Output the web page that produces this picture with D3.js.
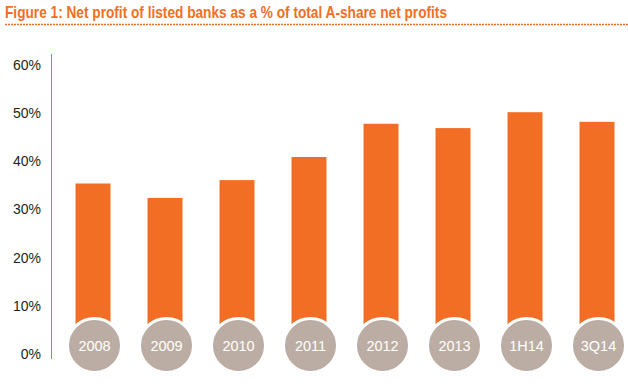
<!DOCTYPE html>
<html>
<head>
<meta charset="utf-8">
<script src="https://cdn.jsdelivr.net/npm/d3@7"></script>
<style>
  body { margin: 0; background: #fff; }
  svg { display: block; font-family: "Liberation Sans", Arial, sans-serif; }
</style>
</head>
<body>
<svg width="628" height="386"></svg>
<script>
const periods = ["2008","2009","2010","2011","2012","2013","1H14","3Q14"];
const shares = [35.4, 32.4, 36.1, 40.9, 47.8, 46.9, 50.2, 48.2];
const yTicks = [0, 10, 20, 30, 40, 50, 60];

const svg = d3.select("svg");
const orange = "#F26E24";
const grey = "#BBADA3";

// title + dotted rule
svg.append("text")
  .attr("x", 5).attr("y", 18)
  .attr("fill", orange)
  .attr("font-size", 16.5)
  .attr("font-weight", "bold")
  .attr("textLength", 442)
  .attr("lengthAdjust", "spacingAndGlyphs")
  .text("Figure 1: Net profit of listed banks as a % of total A-share net profits");

svg.append("line")
  .attr("x1", 5).attr("x2", 628)
  .attr("y1", 24.5).attr("y2", 24.5)
  .attr("stroke", orange)
  .attr("stroke-width", 1.5)
  .attr("stroke-dasharray", "2,1");

const y = d3.scaleLinear().domain([0, 60]).range([354, 65]);
const x = d3.scaleBand().domain(periods).range([57, 633]).paddingInner(0.514).paddingOuter(0.257);

// y axis
const yAxis = svg.append("g")
  .attr("transform", "translate(51,0)")
  .call(d3.axisLeft(y).tickValues(yTicks).tickSize(0).tickPadding(10).tickFormat(d => d + "%"));
yAxis.select(".domain").remove();
yAxis.selectAll("text")
  .attr("font-size", 14)
  .attr("fill", "#231F20")
  .attr("font-family", "Liberation Sans, Arial, sans-serif");

svg.append("line")
  .attr("x1", 51.5).attr("x2", 51.5)
  .attr("y1", 54).attr("y2", 359)
  .attr("stroke", orange)
  .attr("stroke-width", 1);

// bars
svg.selectAll("rect.bar")
  .data(periods)
  .enter()
  .append("rect")
  .attr("class", "bar")
  .attr("x", d => x(d))
  .attr("width", x.bandwidth())
  .attr("y", (d, i) => y(shares[i]))
  .attr("height", (d, i) => y(0) - y(shares[i]))
  .attr("fill", orange);

// category badges
const badges = svg.selectAll("g.badge")
  .data(periods)
  .enter()
  .append("g")
  .attr("class", "badge")
  .attr("transform", d => `translate(${x(d) + x.bandwidth() / 2 + 1.5},345.5)`);

badges.append("circle")
  .attr("r", 27)
  .attr("fill", grey)
  .attr("stroke", "#fff")
  .attr("stroke-width", 3);

badges.append("text")
  .attr("text-anchor", "middle")
  .attr("dy", "0.36em")
  .attr("fill", "#fff")
  .attr("font-size", 14.5)
  .text(d => d);
</script>
</body>
</html>
